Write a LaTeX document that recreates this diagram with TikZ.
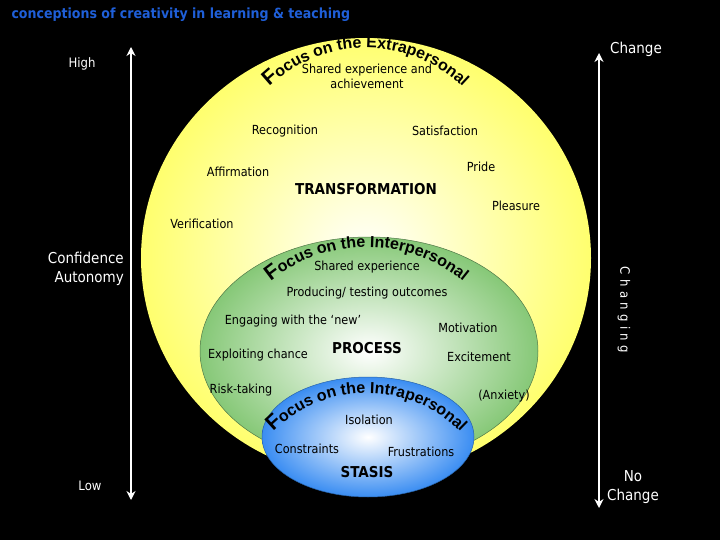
\documentclass[tikz,border=0pt]{standalone}
\usepackage{fontspec}
\setmainfont{DejaVu Sans Condensed}
\newfontfamily\arialbold{Liberation Sans}[BoldFont={Liberation Sans Bold}]
\usetikzlibrary{decorations.text,arrows.meta}
\definecolor{ttl}{HTML}{1F5FD8}
\definecolor{ylw}{HTML}{FFFF6E}
\definecolor{grn}{HTML}{86C877}
\definecolor{blu}{HTML}{3A8DF2}
\tikzset{
 lab/.style={font=\fontsize{12.5}{14}\selectfont, text=black, inner sep=0pt},
 big/.style={font=\fontsize{15}{17}\selectfont\bfseries, text=black, inner sep=0pt},
 side/.style={font=\fontsize{15}{18}\selectfont, text=white, inner sep=0pt, align=center},
 varrow/.style={white, line width=2.5pt, {Stealth[length=9pt,width=9pt]}-{Stealth[length=9pt,width=9pt]}},
}
\newcommand{\bigF}{\arialbold\bfseries\fontsize{21}{21}\selectfont}
\newcommand{\smF}{\arialbold\bfseries\fontsize{16}{16}\selectfont}
\begin{document}
\begin{tikzpicture}[x=1pt,y=1pt]
\fill[black] (0,0) rectangle (720,-540);
\useasboundingbox (0,0) rectangle (720,-540);
\node[anchor=west, text=ttl, font=\fontsize{14}{16}\selectfont\bfseries] (title) at (8,-15) {conceptions of creativity in learning \& teaching};
% shapes
\shade[inner color=white, outer color=ylw] (366,-258) ellipse [x radius=225, y radius=220];
\shade[inner color=white, outer color=grn, draw=grn!60!black, line width=0.5pt] (369,-351) ellipse [x radius=169, y radius=114];
\shade[inner color=white, outer color=blu, draw=blu!70!black, line width=0.5pt] (368,-437) ellipse [x radius=106, y radius=60];
% curved headings
\path[decorate, decoration={text along path, text align=center, text={|\bigF|F|\smF|ocus on the Extrapersonal}}]
  (366,-188) ++(155:140) arc[start angle=155, end angle=25, radius=140];
\path[decorate, decoration={text along path, text align=center, text={|\bigF|F|\smF|ocus on the Interpersonal}}]
  (367,-399) ++(140:152) arc[start angle=140, end angle=40, radius=152];
\path[decorate, decoration={text along path, text align=center, text={|\bigF|F|\smF|ocus on the Intrapersonal}}]
  (367,-525) ++(145:132) arc[start angle=145, end angle=35, radius=132];
% yellow labels
\node[lab, align=center] (sea) at (367,-76) {Shared experience and\\[1pt]achievement};
\node[lab] (rec) at (285,-131) {Recognition};
\node[lab] (sat) at (445,-131) {Satisfaction};
\node[lab] (aff) at (238,-172) {Affirmation};
\node[lab] (pri) at (481,-167) {Pride};
\node[big] (tra) at (366,-189) {TRANSFORMATION};
\node[lab] (ple) at (516,-206) {Pleasure};
\node[lab] (ver) at (202,-224) {Verification};
% green labels
\node[lab] (se) at (367,-267) {Shared experience};
\node[lab] (pto) at (367,-293) {Producing/ testing outcomes};
\node[lab] (eng) at (293,-321) {Engaging with the ‘new’};
\node[lab] (mot) at (468,-328) {Motivation};
\node[big] (pro) at (367,-348) {PROCESS};
\node[lab] (exc) at (258,-355) {Exploiting chance};
\node[lab] (exm) at (479,-357) {Excitement};
\node[lab] (ris) at (241,-390) {Risk-taking};
\node[lab] (anx) at (504,-396) {(Anxiety)};
% blue labels
\node[lab] (iso) at (369,-420) {Isolation};
\node[lab] (con) at (307,-449) {Constraints};
\node[lab] (fru) at (421,-452) {Frustrations};
\node[big] (sta) at (367,-472) {STASIS};
% side
\coordinate (lt) at (131,-47); \coordinate (lb) at (131,-500);
\draw[varrow] (lt) -- (lb);
\coordinate (rt) at (599,-53); \coordinate (rb) at (599,-508);
\draw[varrow] (rt) -- (rb);
\node[side, font=\fontsize{13}{15}\selectfont] (hi) at (82,-64) {High};
\node[side, font=\fontsize{13}{15}\selectfont] (lo) at (90,-486) {Low};
\node[side, align=right, anchor=east] (ca) at (124,-269) {Confidence\\[1pt]Autonomy};
\node[side] (ch) at (636,-49) {Change};
\node[side] (nc) at (633,-487) {No\\[1pt]Change};
\node[side, font=\fontsize{13}{15}\selectfont, rotate=-90] (chg) at (624,-310) {C\,\,h\,\,a\,\,n\,\,g\,\,i\,\,n\,\,g};
\end{tikzpicture}
\end{document}
